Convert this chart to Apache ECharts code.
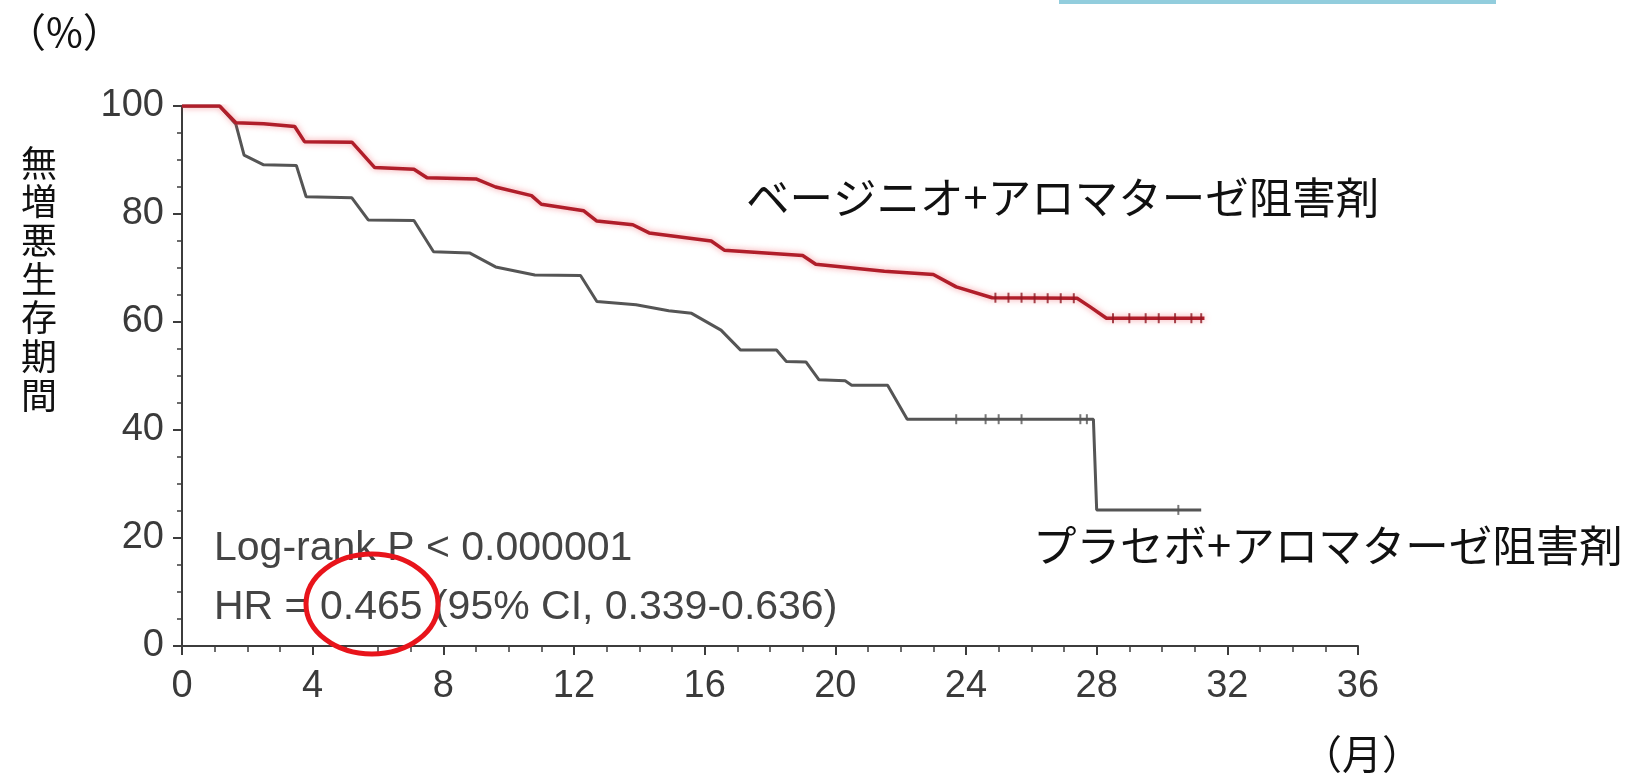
<!DOCTYPE html>
<html><head><meta charset="utf-8">
<script src="https://cdn.jsdelivr.net/npm/echarts@6/dist/echarts.min.js"></script>
<style>html,body{margin:0;padding:0;background:#fff;}#c{width:1636px;height:773px;}</style>
</head><body><div id="c"></div>
<script>
// ---- data (months, % progression-free) ----
const ribociclibCurve = [[0,100],[1.15,100],[1.65,96.9],[2.5,96.7],[3.45,96.2],[3.75,93.4],[5.2,93.3],[5.9,88.6],[7.1,88.3],[7.5,86.7],[9.0,86.5],[9.6,85.0],[10.7,83.4],[11.0,81.8],[12.3,80.6],[12.7,78.7],[13.8,78.0],[14.3,76.5],[16.2,75.0],[16.6,73.3],[19.0,72.3],[19.4,70.7],[21.5,69.4],[23.0,68.8],[23.7,66.5],[24.8,64.5],[27.4,64.4],[27.8,62.8],[28.3,60.7],[31.3,60.7]];
const placeboCurve = [[0,100],[1.15,100],[1.65,96.6],[1.9,90.9],[2.5,89.1],[3.5,89.0],[3.8,83.2],[5.2,83.0],[5.7,78.9],[7.1,78.8],[7.7,73.0],[8.8,72.8],[9.6,70.2],[10.8,68.7],[12.2,68.6],[12.7,63.8],[13.9,63.2],[14.9,62.1],[15.6,61.6],[16.5,58.5],[17.1,54.8],[18.2,54.8],[18.5,52.7],[19.1,52.6],[19.5,49.3],[20.3,49.1],[20.5,48.3],[21.6,48.3],[22.2,42.0],[27.9,42.0],[28.0,25.2],[31.2,25.2]];
const ribociclibCensor = [[24.9,64.5],[25.3,64.5],[25.7,64.5],[26.1,64.4],[26.5,64.4],[26.9,64.4],[27.3,64.4],[28.5,60.7],[29.0,60.7],[29.5,60.7],[29.9,60.7],[30.4,60.7],[30.9,60.7],[31.2,60.7]];
const placeboCensor = [[23.7,42.0],[24.6,42.0],[25.0,42.0],[25.7,42.0],[27.5,42.0],[27.7,42.0],[30.5,25.2]];
const xTickStep = 4;
const yTickStep = 20;
const ribociclibLabel = 'ベージニオ+アロマターゼ阻害剤';
const placeboLabel = 'プラセボ+アロマターゼ阻害剤';
const yTitle = '無増悪生存期間';
const yUnit = '（%）';
const xUnit = '（月）';
const statLine1 = 'Log-rank P < 0.000001';
const statLine2 = 'HR = 0.465 (95% CI, 0.339-0.636)';

const axisColor = '#3c3c3c';
const numFont = '"Liberation Sans", Arial, sans-serif';
const jpFont = '"Noto Sans CJK JP", sans-serif';

const chart = echarts.init(document.getElementById('c'), null, {renderer: 'canvas'});
chart.setOption({
  backgroundColor: '#ffffff',
  animation: false,
  grid: {left: 182, right: 278, top: 106, bottom: 127, containLabel: false},
  xAxis: {
    type: 'value', min: 0, max: 36, interval: xTickStep,
    axisLine: {show: true, lineStyle: {color: axisColor, width: 2}},
    axisTick: {show: true, length: 9, lineStyle: {color: axisColor, width: 2}},
    minorTick: {show: true, splitNumber: 4, length: 6, lineStyle: {color: axisColor, width: 1.5}},
    splitLine: {show: false},
    axisLabel: {color: '#3a3a3a', fontSize: 38, fontFamily: numFont, margin: 22}
  },
  yAxis: {
    type: 'value', min: 0, max: 100, interval: yTickStep,
    axisLine: {show: true, lineStyle: {color: axisColor, width: 2}},
    axisTick: {show: true, length: 9, lineStyle: {color: axisColor, width: 2}},
    minorTick: {show: true, splitNumber: 4, length: 5, lineStyle: {color: axisColor, width: 1.5}},
    splitLine: {show: false},
    axisLabel: {color: '#3a3a3a', fontSize: 38, fontFamily: numFont, margin: 18}
  },
  series: [
    {type: 'line', data: placeboCurve, symbol: 'none', z: 3,
     lineStyle: {color: '#555555', width: 3}},
    {type: 'scatter', data: placeboCensor, symbol: 'rect', symbolSize: [2, 10], z: 3,
     itemStyle: {color: '#555555'}},
    {type: 'line', data: ribociclibCurve, symbol: 'none', z: 4,
     lineStyle: {color: '#B01E2A', width: 3.5, shadowColor: 'rgba(240,80,90,0.6)', shadowBlur: 6}},
    {type: 'scatter', data: ribociclibCensor, symbol: 'rect', symbolSize: [2, 10], z: 4,
     itemStyle: {color: '#901822'}}
  ],
  graphic: [
    {type: 'rect', left: 1059, top: 0, shape: {width: 437, height: 4}, style: {fill: '#92CDDD'}},
    {type: 'text', x: 6, y: 32, style: {text: yUnit, font: '40px ' + jpFont, fill: '#111', verticalAlign: 'middle'}},
    {type: 'text', x: 1302, y: 754, style: {text: xUnit, font: '40px ' + jpFont, fill: '#111', verticalAlign: 'middle'}},
    {type: 'text', x: 39, y: 279, style: {text: yTitle.split('').join('\n'), font: '36px ' + jpFont, lineHeight: 38.7, fill: '#111', align: 'center', verticalAlign: 'middle'}},
    {type: 'text', x: 746, y: 197, style: {text: ribociclibLabel, font: '43.5px ' + jpFont, fill: '#111', verticalAlign: 'middle'}},
    {type: 'text', x: 1033, y: 545, style: {text: placeboLabel, font: '43.5px ' + jpFont, fill: '#111', verticalAlign: 'middle'}},
    {type: 'text', x: 214, y: 549, z: 10, style: {text: statLine1, font: '41px ' + numFont, fill: '#444', verticalAlign: 'middle'}},
    {type: 'text', x: 214, y: 608, z: 10, style: {text: statLine2, font: '41px ' + numFont, fill: '#444', verticalAlign: 'middle'}},
    {type: 'ellipse', z: 11, shape: {cx: 372, cy: 604, rx: 66, ry: 50}, style: {fill: 'none', stroke: '#E8141B', lineWidth: 5}}
  ]
});
</script></body></html>
